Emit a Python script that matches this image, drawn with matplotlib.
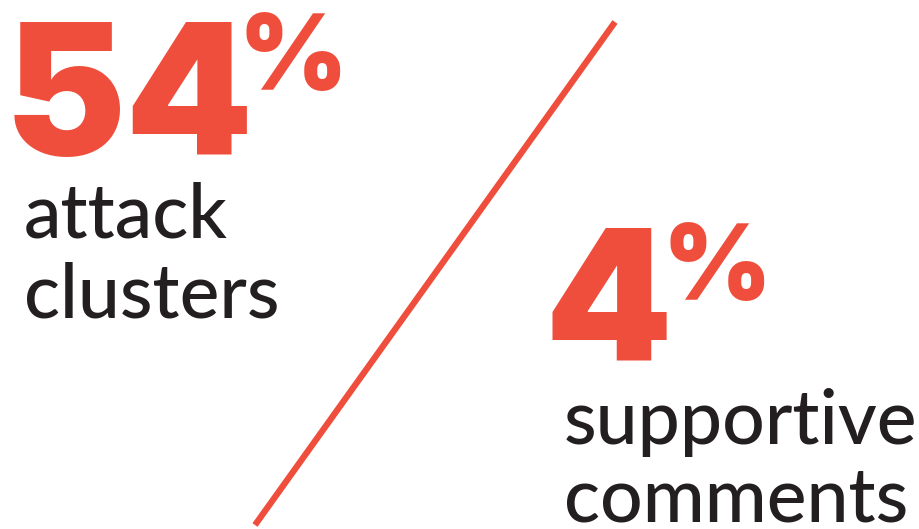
import matplotlib.pyplot as plt

# values and labels
percents = ["54", "4"]
labels = [["attack", "clusters"], ["supportive", "comments"]]

red = "#F04E3C"
dark = "#231F20"

fig = plt.figure(figsize=(9.19, 5.29), dpi=100)
ax = fig.add_axes([0, 0, 1, 1])
ax.set_xlim(0, 919)
ax.set_ylim(529, 0)
ax.axis("off")

# divider line
ax.plot([615, 255], [22, 525], color=red, lw=4.5, solid_capstyle="butt")

# big numbers, baseline and left edge in pixels
num_pos = [(5, 155), (545, 360)]
pct_pos = [(238, 90), (663, 300)]
lab_pos = [(24, [237, 318]), (564, [444, 522])]

for i in range(2):
    x, y = num_pos[i]
    ax.text(x, y, percents[i], color=red, fontsize=131, fontweight="black",
            family="Inter", ha="left", va="baseline")
    px, py = pct_pos[i]
    ax.text(px, py, "%", color=red, fontsize=75, fontweight="black",
            family="Inter", ha="left", va="baseline")
    lx, ly = lab_pos[i]
    for j, lab in enumerate(labels[i]):
        ax.text(lx, ly[j], lab, color=dark, fontsize=54, fontweight="medium",
                family="Lato", ha="left", va="baseline")

fig.savefig("out.png", dpi=100)
